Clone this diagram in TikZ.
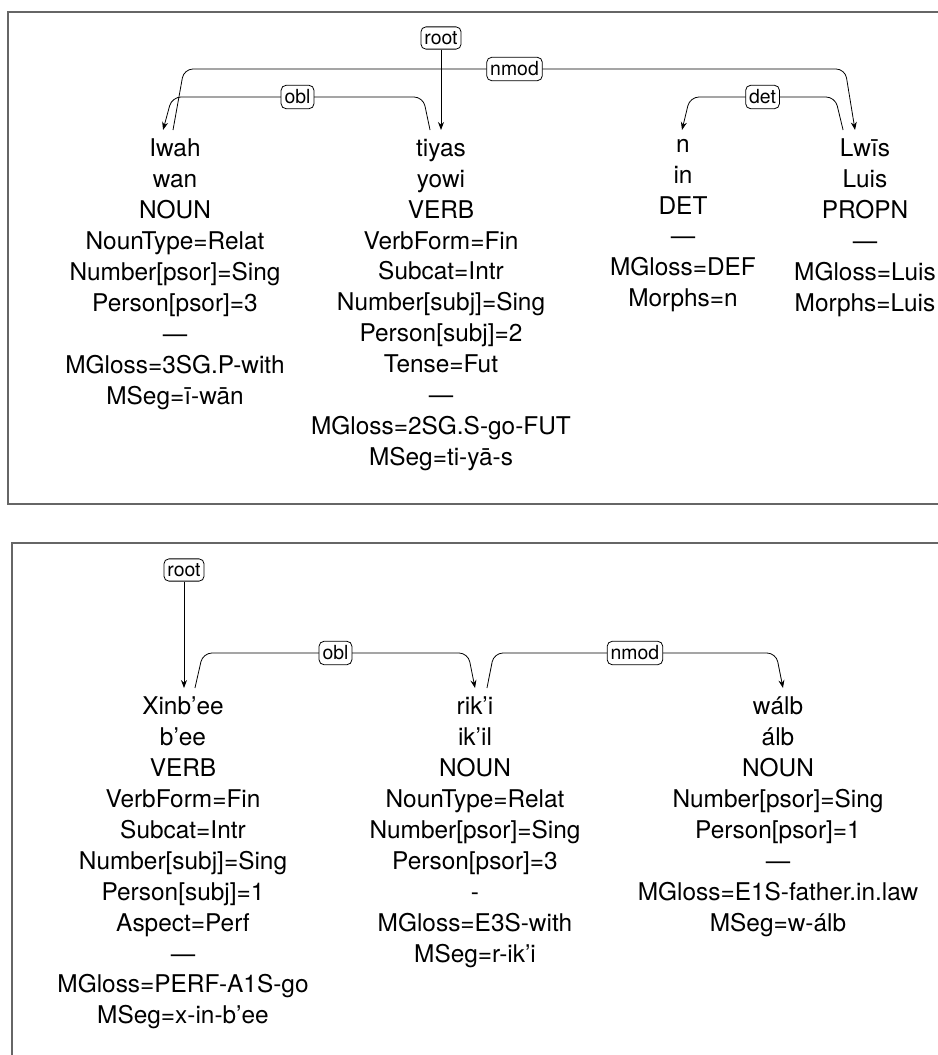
\documentclass[tikz,border=0pt]{standalone}
\usepackage{fontspec}
\setmainfont{TeX Gyre Heros}
\usetikzlibrary{arrows.meta}
\tikzset{
  ud frame/.style={draw=black!60, line width=1.3pt},
  ud token/.style={anchor=north, align=center, inner xsep=0pt, inner ysep=9pt,
    font=\fontsize{24.5}{31}\selectfont, execute at begin node={\vphantom{Ih}}},
  ud rel/.style={draw, fill=white, rounded corners=5pt, line width=0.8pt,
    inner xsep=3.5pt, inner ysep=4.5pt, font=\fontsize{19.5}{21}\selectfont},
  ud arc/.style={-{Stealth[length=8pt,width=6pt]}, line width=0.8pt, rounded corners=9pt}
}
\begin{document}
\begin{tikzpicture}[x=1bp, y=-1bp]
\useasboundingbox (0,0) rectangle (938,1055);
\draw[ud frame] (8,12) rectangle (970,504);
\draw[ud frame] (12,543) rectangle (970,1090);

% first sentence
\node[ud token] (iwah) at (175,130) {Iwah\\wan\\NOUN\\NounType=Relat\\Number[psor]=Sing\\Person[psor]=3\\—\\MGloss=3SG.P-with\\MSeg=ī-wān};
\node[ud token] (tiyas) at (441,130) {tiyas\\yowi\\VERB\\VerbForm=Fin\\Subcat=Intr\\Number[subj]=Sing\\Person[subj]=2\\Tense=Fut\\—\\MGloss=2SG.S-go-FUT\\MSeg=ti-yā-s};
\node[ud token] (n) at (683,130) {n\\in\\DET\\—\\MGloss=DEF\\Morphs=n};
\node[ud token] (lwis) at (865,130) {Lwīs\\Luis\\PROPN\\—\\MGloss=Luis\\Morphs=Luis};
\node[ud rel] (root1) at (441,38) {root};
\draw[ud arc] (root1) -- (tiyas.north);
\draw[ud arc] ([xshift=-2pt]iwah.north) -- ([xshift=9pt]iwah.north |- 0,69)
  -- node[ud rel] {nmod} ([xshift=-20pt]lwis.north |- 0,69) -- ([xshift=-10pt]lwis.north);
\draw[ud arc] ([xshift=-11pt]tiyas.north) -- ([xshift=-18pt]tiyas.north |- 0,97)
  -- node[ud rel] {obl} ([xshift=-3pt]iwah.north |- 0,97) -- ([xshift=-12pt]iwah.north);
\draw[ud arc] ([xshift=-22pt]lwis.north) -- ([xshift=-30pt]lwis.north |- 0,97)
  -- node[ud rel] {det} ([xshift=7pt]n.north |- 0,97) -- ([xshift=-1pt]n.north);

% second sentence
\node[ud token] (xinbee) at (183,688) {Xinb'ee\\b'ee\\VERB\\VerbForm=Fin\\Subcat=Intr\\Number[subj]=Sing\\Person[subj]=1\\Aspect=Perf\\—\\MGloss=PERF-A1S-go\\MSeg=x-in-b'ee};
\node[ud token] (riki) at (475,688) {rik'i\\ik'il\\NOUN\\NounType=Relat\\Number[psor]=Sing\\Person[psor]=3\\-\\MGloss=E3S-with\\MSeg=r-ik'i};
\node[ud token] (walb) at (778,688) {wálb\\álb\\NOUN\\Number[psor]=Sing\\Person[psor]=1\\—\\MGloss=E1S-father.in.law\\MSeg=w-álb};
\node[ud rel] (root2) at (184,570) {root};
\draw[ud arc] (root2) -- (root2 |- xinbee.north);
\draw[ud arc] ([xshift=12pt]xinbee.north) -- ([xshift=20pt]xinbee.north |- 0,653)
  -- node[ud rel] {obl} ([xshift=-7pt]riki.north |- 0,653) -- (riki.north);
\draw[ud arc] ([xshift=12pt]riki.north) -- ([xshift=19pt]riki.north |- 0,653)
  -- node[ud rel] {nmod} ([xshift=-2pt]walb.north |- 0,653) -- ([xshift=5pt]walb.north);
\end{tikzpicture}
\end{document}
